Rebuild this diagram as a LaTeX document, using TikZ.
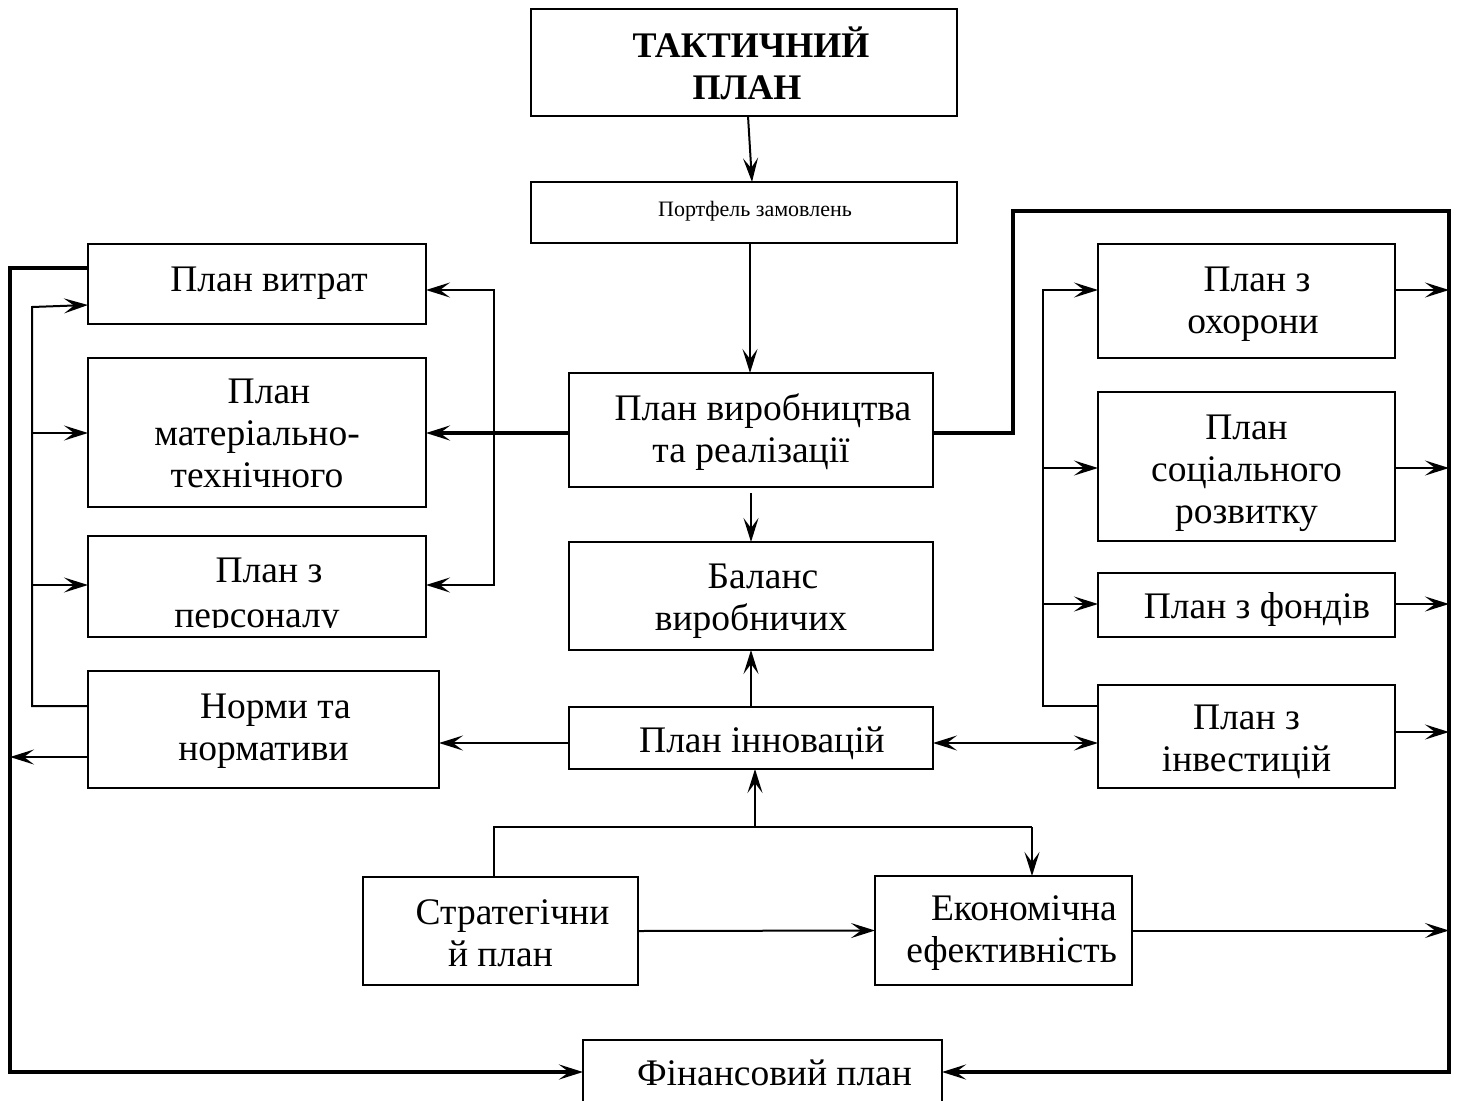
\documentclass[tikz,border=0pt]{standalone}
\usepackage{fontspec}
\setmainfont{Liberation Serif}
\usetikzlibrary{arrows.meta}
\newcommand{\ind}[1][24pt]{\hspace*{#1}}
\begin{document}
\begin{tikzpicture}[x=1pt,y=-1pt,
  box/.style={draw,line width=2pt,inner sep=0pt,outer sep=0pt,anchor=north west},
  txt/.style={align=center,inner sep=0pt,font=\fontsize{37.5}{42}\selectfont},
  ln/.style={line width=2pt},
  lnm/.style={line width=2.6pt},
  lnb/.style={line width=3.5pt},
  tip/.style={-{Stealth[length=24pt,width=15pt,inset=10pt]}},
  tips/.style={{Stealth[length=24pt,width=15pt,inset=10pt]}-{Stealth[length=24pt,width=15pt,inset=10pt]}}
]
\useasboundingbox[fill=white] (0,0) rectangle (1461,1100);

% boxes
\node[box,minimum width=426pt,minimum height=107pt] (tac) at (531,9) {};
\node[box,minimum width=426pt,minimum height=61pt] (port) at (531,182) {};
\node[box,minimum width=338pt,minimum height=80pt] (vit) at (88,244) {};
\node[box,minimum width=338pt,minimum height=149pt] (mat) at (88,358) {};
\node[box,minimum width=338pt,minimum height=101pt] (pers) at (88,536) {};
\node[box,minimum width=351pt,minimum height=117pt] (norm) at (88,671) {};
\node[box,minimum width=364pt,minimum height=114pt] (pv) at (569,373) {};
\node[box,minimum width=364pt,minimum height=108pt] (bal) at (569,542) {};
\node[box,minimum width=364pt,minimum height=62pt] (inn) at (569,707) {};
\node[box,minimum width=297pt,minimum height=114pt] (ohr) at (1098,244) {};
\node[box,minimum width=297pt,minimum height=149pt] (soc) at (1098,392) {};
\node[box,minimum width=297pt,minimum height=64pt] (fond) at (1098,573) {};
\node[box,minimum width=297pt,minimum height=103pt] (inv) at (1098,685) {};
\node[box,minimum width=275pt,minimum height=108pt] (str) at (363,877) {};
\node[box,minimum width=257pt,minimum height=109pt] (eco) at (875,876) {};
\node[box,minimum width=359pt,minimum height=80pt] (fin) at (583,1040) {};

% texts
\node[txt,font=\fontsize{36}{42}\bfseries] (tact) at (744,63) {\ind[14pt]ТАКТИЧНИЙ\\\ind[6pt]ПЛАН};
\node[txt,font=\fontsize{22}{26}\selectfont] (portt) at (744,211) {\ind[22pt]Портфель замовлень};
\node[txt] (vitt) at (257,283) {\ind План витрат};
\node[txt] (matt) at (257,433) {\ind План\\матеріально-\\технічного};
\begin{scope}
\clip (pers.north west) rectangle (426,627);
\node[txt,font=\fontsize{37.5}{45}\selectfont] (perst) at (257,597) {\ind План з\\персоналу};
\end{scope}
\node[txt] (normt) at (263.5,731) {\ind Норми та\\нормативи};
\node[txt] (pvt) at (751,432) {\ind План виробництва\\та реалізації};
\node[txt] (balt) at (751,601) {\ind Баланс\\виробничих};
\node[txt] (innt) at (751,743) {\ind[22pt]План інновацій};
\node[txt] (ohrt) at (1246.5,304) {\ind[21pt]План з\\\ind[13pt]охорони};
\node[txt] (soct) at (1246.5,473) {План\\соціального\\розвитку};
\node[txt] (fondt) at (1246.5,609) {\ind[21pt]План з фондів};
\node[txt] (invt) at (1246.5,742) {План з\\інвестицій};
\node[txt] (strt) at (500.5,933) {\ind Стратегічни\\й план};
\node[txt,align=right,anchor=east] (ecot) at (1117,933) {Економічна\\ефективність};
\node[txt] (fint) at (762.5,1073) {\ind Фінансовий план};

% central column
\draw[ln,tip] (tac.south -| 748,0) -- (port.north -| 752,0);
\draw[ln,tip] (port.south -| 750,0) -- (pv.north -| 750,0);
\draw[ln,tip] ([yshift=-6pt]pv.south) -- (bal.north);
\draw[ln,tip] (inn.north) -- (bal.south);

% bottom tree
\draw[ln] (str.north -| 494,0) -- (494,827) -- (1032,827);
\draw[ln,tip] (1032,827) -- (eco.north -| 1032,0);
\draw[ln,tip] (755,827) -- (inn.south -| 755,0);
\draw[ln,tip] (str.east) -- (eco.west);
\draw[ln,tip] (eco.east) -- (eco.east -| 1449,0);

% left side
\draw[lnb,tip] (pv.west |- 0,433) -- (mat.east |- 0,433);
\draw[ln,tips] (vit.east |- 0,290) -- (494,290) -- (494,585) -- (pers.east |- 0,585);
\draw[ln,tip] (inn.west |- 0,743) -- (norm.east |- 0,743);
\draw[lnm,tip] (norm.west |- 0,757) -- (10,757);
\draw[lnb,tip] (vit.west |- 0,268) -- (10,268) -- (10,1072) -- (fin.west |- 0,1072);
\draw[ln,tip] (norm.west |- 0,706) -- (32,706) -- (32,307) -- (vit.west |- 0,305);
\draw[ln,tip] (32,433) -- (mat.west |- 0,433);
\draw[ln,tip] (32,585) -- (pers.west |- 0,585);

% right side
\draw[lnb,tip] (pv.east |- 0,433) -- (1013,433) -- (1013,211) -- (1449,211) -- (1449,1072) -- (fin.east |- 0,1072);
\draw[ln,tip] (inv.west |- 0,706) -- (1043,706) -- (1043,290) -- (ohr.west |- 0,290);
\draw[ln,tip] (1043,468) -- (soc.west |- 0,468);
\draw[ln,tip] (1043,604) -- (fond.west |- 0,604);
\draw[lnm,tip] (ohr.east |- 0,290) -- (1449,290);
\draw[lnm,tip] (soc.east |- 0,468) -- (1449,468);
\draw[lnm,tip] (fond.east |- 0,604) -- (1449,604);
\draw[lnm,tip] (inv.east |- 0,732) -- (1449,732);
\draw[ln,tips] (inn.east |- 0,743) -- (inv.west |- 0,743);
\end{tikzpicture}
\end{document}
